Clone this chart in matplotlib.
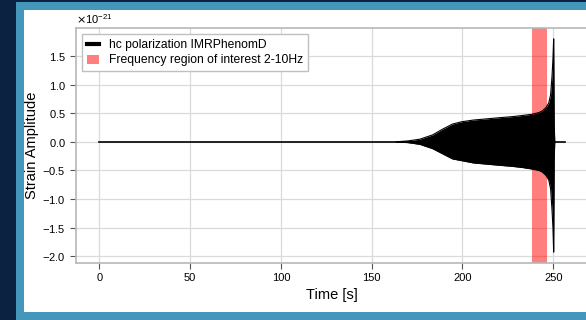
import numpy as np
import matplotlib
matplotlib.use("Agg")
import matplotlib.pyplot as plt
from matplotlib.patches import Rectangle
from matplotlib.ticker import ScalarFormatter

plt.rcParams['font.family'] = ['Liberation Sans', 'DejaVu Sans']

# envelope of the hc waveform (units of 1e-21)
t_env = [163.5, 170, 176.5, 183.5, 189, 194.5, 199.5, 206, 213, 220, 227.5, 233,
         238, 242, 244, 246, 247.5, 248.5, 249.3, 249.8, 250.2, 250.5, 250.8]
env_hi = [0, 0.015, 0.045, 0.12, 0.22, 0.31, 0.35, 0.38, 0.40, 0.42, 0.44, 0.46,
          0.48, 0.51, 0.54, 0.60, 0.68, 0.82, 1.15, 1.45, 1.80, 0.3, 0]
env_lo = [0, -0.015, -0.045, -0.12, -0.21, -0.30, -0.33, -0.37, -0.39, -0.41, -0.43, -0.45,
          -0.475, -0.50, -0.53, -0.59, -0.67, -0.82, -1.2, -1.5, -1.93, -0.3, 0]
t_line = [0, 256.3]
h_line = [0, 0]
band = [238.2, 246.4]   # 2-10 Hz region [s]
scale = 1e-21

fig = plt.figure(figsize=(5.86, 3.2), dpi=100)
fig.patch.set_facecolor('#0b2240')
fig.add_artist(Rectangle((16/586, 0), 1, (320-2)/320, transform=fig.transFigure,
                         facecolor='#4596bb', edgecolor='none', zorder=-2))
fig.add_artist(Rectangle((24/586, 8/320), 1, (312-10)/320, transform=fig.transFigure,
                         facecolor='white', edgecolor='none', zorder=-1))

ax = fig.add_axes([76/586, (320-263)/320, (588-76)/586, (263-28)/320])

ax.axvspan(band[0], band[1], color='red', alpha=0.5, lw=0, zorder=1,
           label='Frequency region of interest 2-10Hz')
hi = np.array(env_hi) * scale
lo = np.array(env_lo) * scale
ax.fill_between(t_env, lo, hi, color='black', lw=0, zorder=2)
ax.plot(t_env, hi, color='black', lw=0.8, zorder=2)
ax.plot(t_env, lo, color='black', lw=0.8, zorder=2)
ax.plot(t_line, np.array(h_line) * scale, color='black', lw=1.2, zorder=2,
        label='hc polarization IMRPhenomD')

ax.set_xlim(-12.8, 269.1)
ax.set_ylim(-2.12e-21, 1.99e-21)
ax.set_xticks([0, 50, 100, 150, 200, 250])
ax.set_yticks(np.arange(-2.0, 1.51, 0.5) * scale)
fmt = ScalarFormatter(useMathText=True)
ax.yaxis.set_major_formatter(fmt)
ax.yaxis.get_offset_text().set_fontsize(8)

ax.grid(True, color='#dadada', lw=0.9)
ax.set_axisbelow(True)
for s in ax.spines.values():
    s.set_color('#b8b8b8')
    s.set_linewidth(1.2)
ax.tick_params(labelsize=8, length=4, color='#555555', width=0.8)

ax.set_xlabel('Time [s]', fontsize=10.5, labelpad=3)
ax.set_ylabel('Strain Amplitude', fontsize=10.5, labelpad=2)

h, l = ax.get_legend_handles_labels()
leg = ax.legend(h[::-1], l[::-1], loc='upper left', fontsize=8.7, handlelength=1.0,
                labelspacing=0.3, fancybox=False, framealpha=1, edgecolor='#c0c0c0')
leg.legend_handles[0].set_linewidth(3)

fig.savefig('out.png', dpi=100, facecolor=fig.get_facecolor())
